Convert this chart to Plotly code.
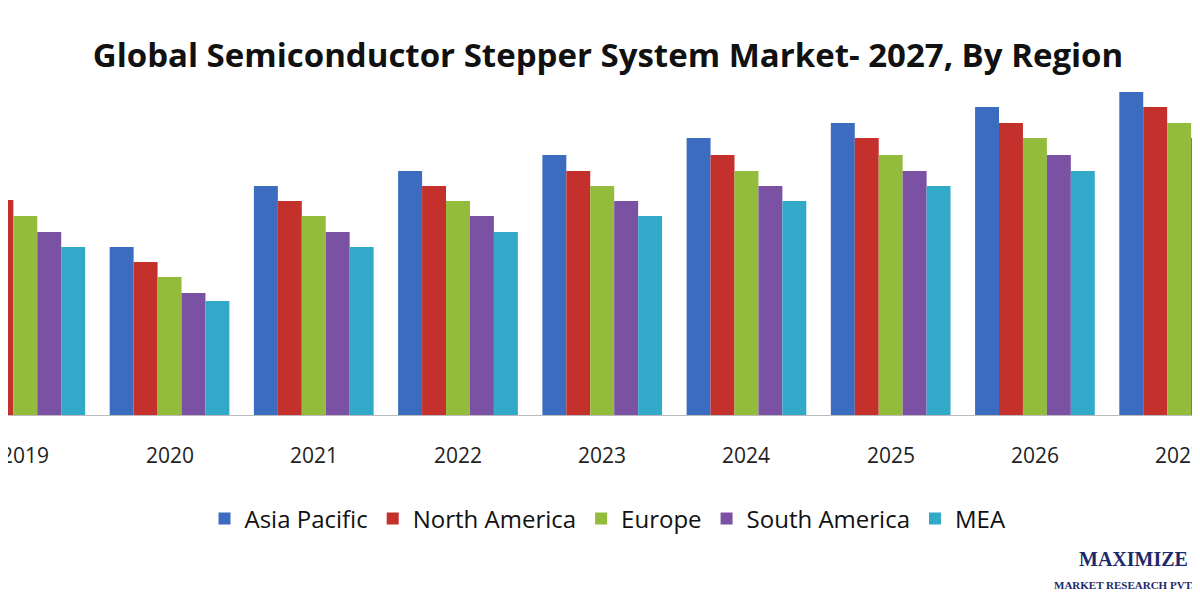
import plotly.graph_objects as go

years = ["2019", "2020", "2021", "2022", "2023", "2024", "2025", "2026", "2027"]
asia_pacific = [230, 168, 229, 244, 260, 277, 292, 308, 323]
north_america = [215, 153, 214, 229, 244, 260, 277, 292, 308]
europe = [199, 138, 199, 214, 229, 244, 260, 277, 292]
south_america = [183, 122, 183, 199, 214, 229, 244, 260, 277]
mea = [168, 114, 168, 183, 199, 214, 229, 244, 260]

series = [
    ("Asia Pacific", asia_pacific, "#3b6cc0"),
    ("North America", north_america, "#c4302c"),
    ("Europe", europe, "#93bb3c"),
    ("South America", south_america, "#7b52a3"),
    ("MEA", mea, "#33a9c9"),
]

x = list(range(len(years)))
fig = go.Figure()
for name, vals, col in series:
    fig.add_trace(go.Bar(x=x, y=vals, name=name, marker=dict(color=col, line=dict(width=0))))

for i, yr in enumerate(years):
    fig.add_annotation(text=yr, x=i, y=-0.12, xref="x", yref="paper", showarrow=False,
                       yanchor="middle", font=dict(family="Open Sans", size=21, color="#222"))

fig.update_layout(
    width=1200, height=600,
    paper_bgcolor="white", plot_bgcolor="white",
    margin=dict(l=0, r=0, t=72, b=193),
    barmode="group", bargap=0.17, bargroupgap=0.0,
    title=dict(text="<b>Global Semiconductor Stepper System Market- 2027, By Region</b>",
               x=0.5, y=0.94, xanchor="center", font=dict(family="Open Sans", size=33, color="#111")),
    xaxis=dict(range=[-0.12, 8.20], tickvals=x, showticklabels=False, showgrid=False,
               showline=True, linecolor="#bbbbbb", ticks=""),
    yaxis=dict(range=[0, 335], visible=False),
    legend=dict(orientation="h", x=0.5, xanchor="center", y=-0.31, yanchor="middle",
                font=dict(family="Open Sans", size=24, color="#111"), itemwidth=30),
)
fig.add_annotation(text="<b>MAXIMIZE</b>", x=0.985, y=-0.47, xref="paper", yref="paper",
                   xanchor="right", showarrow=False,
                   font=dict(family="Liberation Serif", size=20, color="#1c2a6b"))
fig.add_annotation(text="<b>MARKET RESEARCH PVT.</b>", x=0.99, y=-0.53, xref="paper", yref="paper",
                   xanchor="right", showarrow=False,
                   font=dict(family="Liberation Serif", size=11, color="#1c2a6b"))
fig.write_html("out.html")
